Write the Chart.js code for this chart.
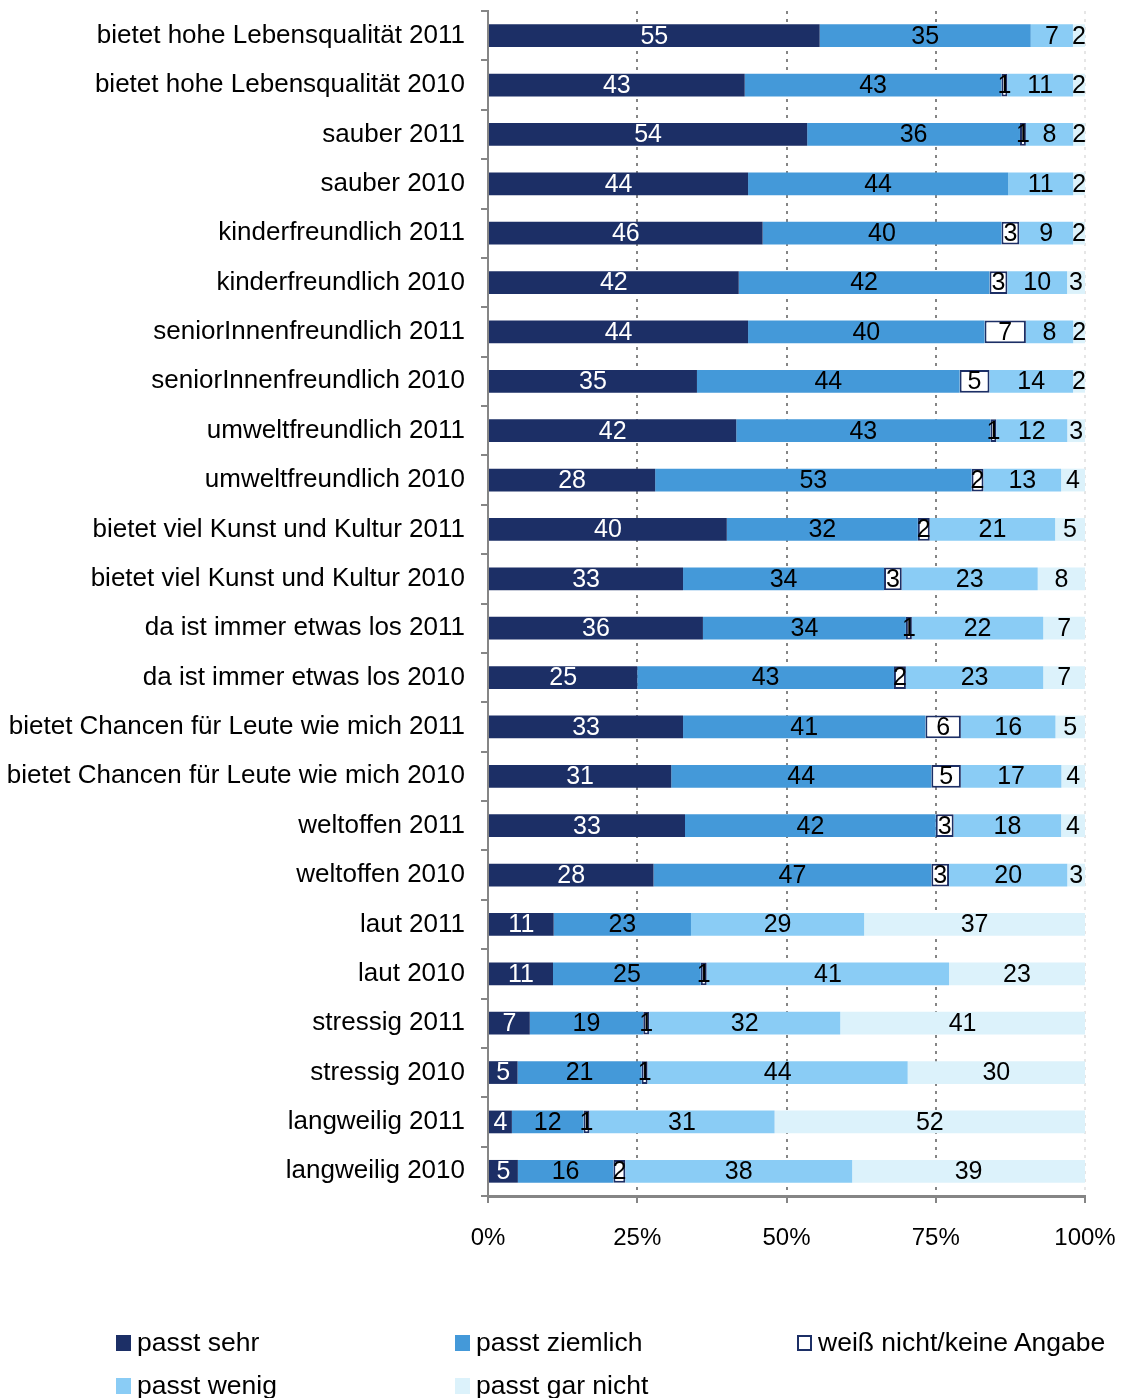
<!DOCTYPE html>
<html><head><meta charset="utf-8">
<script src="https://cdn.jsdelivr.net/npm/chart.js@4"></script>
<style>
html,body{margin:0;padding:0;background:#fff;}
#wrap{position:relative;width:1126px;height:1398px;overflow:hidden;}
canvas{display:block;}
#legend{position:absolute;left:116px;top:1321px;display:grid;grid-template-columns:339px 342px auto;grid-auto-rows:43px;font:26.5px "Liberation Sans",Arial,sans-serif;color:#000;}
.item{display:flex;align-items:center;white-space:nowrap;}
.sw{width:15px;height:16px;margin-right:6px;box-sizing:border-box;flex:none;}
</style></head><body>
<div id="wrap"><canvas id="c" width="1126" height="1398"></canvas><div id="legend"></div></div>
<script>
const categories = [
  "bietet hohe Lebensqualität 2011","bietet hohe Lebensqualität 2010",
  "sauber 2011","sauber 2010",
  "kinderfreundlich 2011","kinderfreundlich 2010",
  "seniorInnenfreundlich 2011","seniorInnenfreundlich 2010",
  "umweltfreundlich 2011","umweltfreundlich 2010",
  "bietet viel Kunst und Kultur 2011","bietet viel Kunst und Kultur 2010",
  "da ist immer etwas los 2011","da ist immer etwas los 2010",
  "bietet Chancen für Leute wie mich 2011","bietet Chancen für Leute wie mich 2010",
  "weltoffen 2011","weltoffen 2010",
  "laut 2011","laut 2010",
  "stressig 2011","stressig 2010",
  "langweilig 2011","langweilig 2010"
];
const seriesNames = ["passt sehr","passt ziemlich","weiß nicht/keine Angabe","passt wenig","passt gar nicht"];
const passtSehr     = [55,43,54,44,46,42,44,35,42,28,40,33,36,25,33,31,33,28,11,11,7,5,4,5];
const passtZiemlich = [35,43,36,44,40,42,40,44,43,53,32,34,34,43,41,44,42,47,23,25,19,21,12,16];
const weissNicht    = [0,1,1,0,3,3,7,5,1,2,2,3,1,2,6,5,3,3,0,1,1,1,1,2];
const passtWenig    = [7,11,8,11,9,10,8,14,12,13,21,23,22,23,16,17,18,20,29,41,32,44,31,38];
const passtGarNicht = [2,2,2,2,2,3,2,2,3,4,5,8,7,7,5,4,4,3,37,23,41,30,52,39];
const xTickLabels = ["0%","25%","50%","75%","100%"];

const raw = [passtSehr, passtZiemlich, weissNicht, passtWenig, passtGarNicht];
const fills = ["#1C2F66","#4499D9","#FFFFFF","#8ACCF5","#DCF2FB"];
const borders = [null,null,"#1C2F66",null,null];
const labelColors = ["#FFFFFF","#000000","#000000","#000000","#000000"];
const totals = categories.map((_, j) => raw.reduce((s, arr) => s + arr[j], 0));

const datasets = raw.map((arr, i) => ({
  label: seriesNames[i],
  data: arr.map((v, j) => v / totals[j] * 100),
  backgroundColor: fills[i],
  borderColor: borders[i] || fills[i],
  borderWidth: borders[i] ? 2 : 0,
  borderSkipped: false,
  barPercentage: 0.46,
  categoryPercentage: 1.0
}));

const labelPlugin = {
  id: 'valueLabels',
  afterDatasetsDraw(chart) {
    const ctx = chart.ctx;
    ctx.save();
    ctx.font = '25px "Liberation Sans", Arial, sans-serif';
    ctx.textAlign = 'center';
    ctx.textBaseline = 'middle';
    chart.data.datasets.forEach((ds, i) => {
      const meta = chart.getDatasetMeta(i);
      meta.data.forEach((bar, j) => {
        const v = raw[i][j];
        if (!v) return;
        const p = bar.getProps(['x','y','base'], true);
        ctx.fillStyle = labelColors[i];
        ctx.fillText(String(v), (p.x + p.base) / 2, p.y + 1);
      });
    });
    ctx.restore();
  }
};

const chart = new Chart(document.getElementById('c'), {
  type: 'bar',
  data: { labels: categories, datasets },
  plugins: [labelPlugin],
  options: {
    indexAxis: 'y',
    responsive: false,
    animation: false,
    layout: { padding: { left: 0, top: 11, right: 41, bottom: 142 } },
    plugins: { legend: { display: false }, tooltip: { enabled: false } },
    scales: {
      x: {
        stacked: true, min: 0, max: 100,
        ticks: {
          stepSize: 25, color: '#000', padding: 21,
          font: { family: '"Liberation Sans", Arial, sans-serif', size: 24 },
          callback: (v, idx) => xTickLabels[idx]
        },
        grid: {
          color: (c) => c.tick && c.tick.value === 0 ? 'rgba(0,0,0,0)' : (c.tick && c.tick.value === 100 ? '#E6E6E6' : '#858585'),
          lineWidth: 2, borderDash: [5, 8], tickLength: 7, tickColor: '#858585', tickBorderDash: [], tickWidth: 2
        },
        border: { display: true, color: '#858585', width: 3, dash: [3, 5] },
        afterFit: (s) => { s.height = 60; s.paddingLeft = 0; s.paddingRight = 0; }
      },
      y: {
        stacked: true,
        ticks: {
          color: '#000', padding: 16, autoSkip: false,
          font: { family: '"Liberation Sans", Arial, sans-serif', size: 26 }
        },
        grid: { offset: true, drawOnChartArea: false, drawTicks: true, tickLength: 7, color: '#868686', lineWidth: 2 },
        border: { display: true, color: '#868686', width: 2 },
        afterFit: (s) => { s.width = 488; s.paddingTop = 0; s.paddingBottom = 0; }
      }
    }
  }
});

const lg = document.getElementById('legend');
[0,1,2,3,4].forEach(i => {
  const it = document.createElement('div');
  it.className = 'item';
  const sw = document.createElement('span');
  sw.className = 'sw';
  sw.style.background = fills[i];
  if (borders[i]) sw.style.border = '2px solid ' + borders[i];
  const tx = document.createElement('span');
  tx.textContent = seriesNames[i];
  it.appendChild(sw); it.appendChild(tx);
  lg.appendChild(it);
});
</script>
</body></html>
